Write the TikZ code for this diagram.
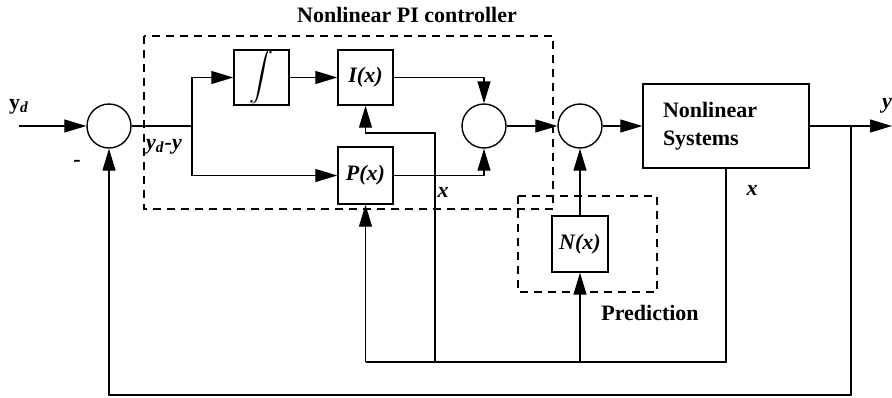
\documentclass[tikz,border=0pt]{standalone}
\usepackage{amsmath}
\usepackage{fontspec}
\setmainfont{Liberation Serif}
\usetikzlibrary{arrows.meta,positioning}
\tikzset{
    block/.style={
        draw,line width=.7pt,
        minimum width=27.5pt,minimum height=27.5pt,inner sep=1pt,
        font=\fontsize{11}{13}\selectfont\bfseries\itshape
    },
    sumpoint/.style={draw,circle,line width=.7pt,minimum size=22pt,inner sep=0pt},
    dashbox/.style={draw,dash pattern=on 4pt off 3pt,line width=.6pt},
    lbl/.style={font=\fontsize{11}{13}\selectfont\bfseries},
    >={Triangle[length=11pt,width=6.5pt]}
}

\begin{document}
\begin{tikzpicture}[x=.5pt,y=-.5pt,line width=.6pt]
\useasboundingbox (0,0) rectangle (892,397);
% frames
\draw[dashbox] (144,36) rectangle (553,209);
\draw[dashbox] (518,196) rectangle (657,292);
\node[lbl] (pi_title) at (407,15) {Nonlinear PI controller};
\node[lbl] (pred_title) at (650,313) {Prediction};

% blocks
\foreach \name/\x in {1/109,2/484,3/580}
    \node[sumpoint] (sum_\name) at (\x,126) {};
\node[block,font=\fontsize{12.5}{14}\selectfont,inner sep=0pt] (integ) at (261.5,77.5) {$\displaystyle\int$};
\node[block] (I) at (365.5,77.5) {I(x)};
\node[block,minimum height=28.5pt] (P) at (365.5,175.5) {P(x)};
\node[block,minimum width=28pt,minimum height=28pt] (N) at (580,244) {N(x)};
\node[block,font=\fontsize{11}{14}\selectfont\bfseries,
      text width=63pt,inner xsep=10pt,minimum height=42pt,align=left] (sys) at (726,126) {Nonlinear\\Systems};

\coordinate (in) at (19,126);
\coordinate (split) at (192,126);
\coordinate (tap) at (851,126);
\coordinate (out) at (892,126);
\coordinate (bus) at (435,362);
\coordinate (ibend) at (435,133);
\coordinate (low) at (851,395);

% forward path
\draw[->] (in) -- (sum_1);
\draw (sum_1) -- (split);
\draw[->] (split) |- (integ);
\draw[->] (split) |- (P);
\draw[->] (integ) -- (I);
\draw[->] (I) -| (sum_2);
\draw[->] (P) -| (sum_2);
\draw[->] (sum_2) -- (sum_3);
\draw[->] (sum_3) -- (sys);
\draw[->] (sys) -- (out);
\draw[->] (N) -- (sum_3);

% state feedback
\draw (sys.south) -- (sys.south |- bus) -- (P.south |- bus);
\draw[->] (P.south |- bus) -- (P.south);
\draw[->] (bus) -- (ibend) -| (I.south);
\draw[->] (N.south |- bus) -- (N.south);
% output feedback
\draw[->] (tap) -- (low) -| (sum_1.south);

% labels
\node[lbl] (yd) at (19,107) {y\textsubscript{\itshape d}};
\node[lbl] (minus) at (77,163) {-};
\node[lbl,font=\fontsize{11}{13}\selectfont\bfseries\itshape] (err) at (164,147) {y\textsubscript{d}-y};
\node[lbl,font=\fontsize{11}{13}\selectfont\bfseries\itshape] (x_1) at (443,192) {x};
\node[lbl,font=\fontsize{11}{13}\selectfont\bfseries\itshape] (x_2) at (752,190) {x};
\node[lbl,font=\fontsize{11}{13}\selectfont\bfseries\itshape] (y) at (887,106) {y};
\end{tikzpicture}
\end{document}
